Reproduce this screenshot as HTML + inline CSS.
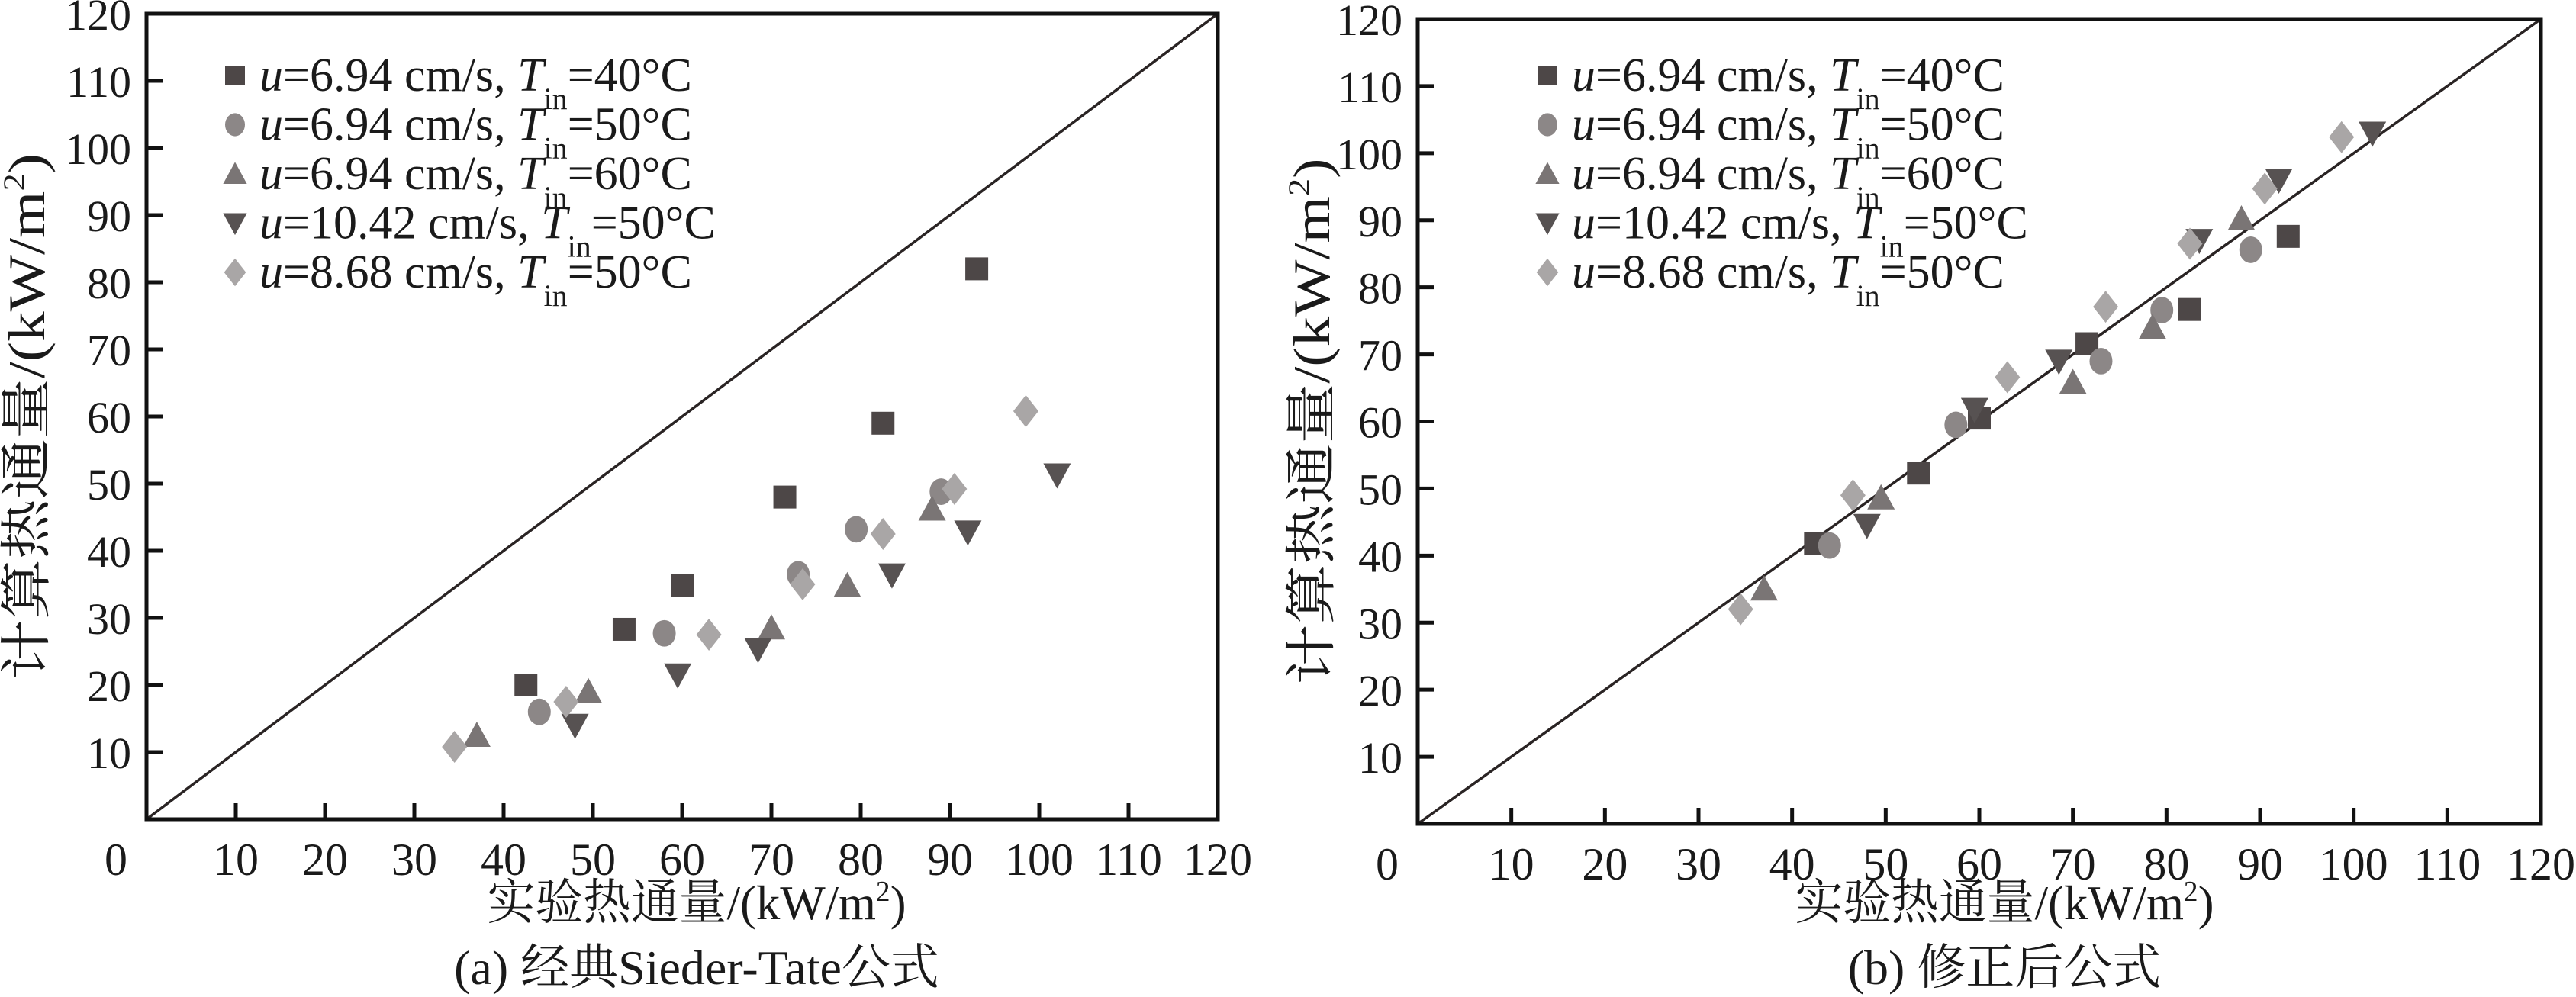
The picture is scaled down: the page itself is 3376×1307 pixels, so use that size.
<!DOCTYPE html>
<html><head><meta charset="utf-8"><style>
html,body{margin:0;padding:0;background:#fff;}
svg{display:block;}
</style></head><body>
<svg id="fig" width="3376" height="1307" viewBox="0 0 3376 1307" xmlns="http://www.w3.org/2000/svg" font-family="'Liberation Serif', 'DejaVu Serif', 'Noto Serif CJK SC', serif" fill="#1a1a1a"></svg>
<script>
const ticks=[0,10,20,30,40,50,60,70,80,90,100,110,120];
const legendSpeed=["6.94","6.94","6.94","10.42","8.68"];
const legendTemp=["40","50","60","50","50"];
const markerShapes=["square","circle","up","down","diamond"];
// Plot (a) data
const aSqX=[42.5,53.5,60,71.5,82.5,93], aSqY=[20,28.3,34.8,48,59,82];
const aCiX=[44,58,73,79.5,89], aCiY=[16,27.7,36.5,43.2,48.8];
const aUpX=[37,49.5,70,78.5,88], aUpY=[12.5,19,28.5,34.8,46.2];
const aDnX=[48,59.5,68.5,83.5,92,102], aDnY=[14,21.5,25.3,36.4,42.8,51.3];
const aDiX=[34.5,47,63,73.5,82.5,90.5,98.5], aDiY=[10.8,17.5,27.5,35,42.5,49.2,60.8];
// Plot (b) data
const bSqX=[42.5,53.5,60,71.5,82.5,93], bSqY=[41.8,52.3,60.5,71.6,76.7,87.6];
const bCiX=[44,57.5,73,79.5,89], bCiY=[41.5,59.5,69,76.6,85.6];
const bUpX=[37,49.5,70,78.5,88], bUpY=[35,48.6,65.8,74,90.2];
const bDnX=[48,59.5,68.5,83.5,92,102], bDnY=[44.5,61.8,69,87,96,103];
const bDiX=[34.5,46.5,63,73.5,82.5,90.5,98.7], bDiY=[32,49,66.6,77.1,86.5,94.7,102.4];

const NS="http://www.w3.org/2000/svg";
const svg=document.getElementById('fig');
function mk(tag,attrs,parent){const e=document.createElementNS(NS,tag);for(const k in attrs)e.setAttribute(k,attrs[k]);(parent||svg).appendChild(e);return e;}
const colors={square:"#4d4747",circle:"#8c8787",up:"#7a7575",down:"#575252",diamond:"#a9a6a6"};
function marker(g,shape,cx,cy,s){
  let e;
  if(shape==="square") e=mk('rect',{x:cx-s*0.5,y:cy-s*0.5,width:s,height:s,fill:colors.square},g);
  else if(shape==="circle") e=mk('ellipse',{cx:cx,cy:cy,rx:s*0.5,ry:s*0.58,fill:colors.circle},g);
  else if(shape==="up") e=mk('polygon',{points:`${cx},${cy-s*0.6} ${cx+s*0.6},${cy+s*0.5} ${cx-s*0.6},${cy+s*0.5}`,fill:colors.up},g);
  else if(shape==="down") e=mk('polygon',{points:`${cx-s*0.6},${cy-s*0.5} ${cx+s*0.6},${cy-s*0.5} ${cx},${cy+s*0.6}`,fill:colors.down},g);
  else e=mk('polygon',{points:`${cx},${cy-s*0.7} ${cx+s*0.55},${cy} ${cx},${cy+s*0.7} ${cx-s*0.55},${cy}`,fill:colors.diamond},g);
  return e;
}
function plot(id,L,R,T,B,data,legX,titleX,yTitleX,caption){
  const g=mk('g',{});
  
  
  const sx=v=>L+(R-L)*v/120, sy=v=>B-(B-T)*v/120;
  const d=mk('line',{x1:sx(0),y1:sy(0),x2:sx(120),y2:sy(120),stroke:"#2a2424","stroke-width":3.5},g);
  
  
  const f=mk('rect',{x:L,y:T,width:R-L,height:B-T,fill:"none",stroke:"#111","stroke-width":5},g);
  
  
  ticks.forEach(t=>{
    if(t>0&&t<120){
      mk('line',{x1:sx(t),y1:B,x2:sx(t),y2:B-21,stroke:"#111","stroke-width":5},g);
      mk('line',{x1:L,y1:sy(t),x2:L+21,y2:sy(t),stroke:"#111","stroke-width":5},g);
    }
    if(t>0){
      const xl=mk('text',{x:sx(t),y:B+73,"font-size":60,"text-anchor":"middle"},g);
      xl.textContent=t;
      
      
      const yl=mk('text',{x:L-20,y:sy(t)+21,"font-size":58,"text-anchor":"end"},g);
      yl.textContent=t;
      
      
    }
  });
  data.forEach((s,i)=>{
    const sg=mk('g',{},g);
    
    
    s[0].forEach((xv,j)=>{
      const m=marker(sg,markerShapes[i],sx(xv),sy(s[1][j]),30);
      
      
    });
  });
  const lg=mk('g',{},g);
  
  
  for(let i=0;i<5;i++){
    const y=99+i*64.5;
    const m=marker(lg,markerShapes[i],legX,y,26);
    
    
    const t=mk('text',{x:legX+32,y:y+20,"font-size":62},lg);
    
    
    t.innerHTML=`<tspan font-style="italic">u</tspan>=${legendSpeed[i]} cm/s, <tspan font-style="italic">T</tspan><tspan font-size="40" dy="24">in</tspan><tspan dy="-24">=${legendTemp[i]}°C</tspan>`;
  }
  const xt=mk('text',{x:titleX,y:1205,"font-size":64,"text-anchor":"middle",textLength:549,lengthAdjust:"spacingAndGlyphs"},g);
  
  
  xt.innerHTML='实验热通量/(kW/m<tspan font-size="38" dy="-24">2</tspan><tspan dy="24">)</tspan>';
  const yt=mk('text',{x:0,y:0,"font-size":68,"text-anchor":"middle",textLength:690,lengthAdjust:"spacingAndGlyphs",transform:`translate(${yTitleX},${(T+B)/2}) rotate(-90)`},g);
  
  
  yt.innerHTML='计算热通量/(kW/m<tspan font-size="40" dy="-26">2</tspan><tspan dy="26">)</tspan>';
  const cp=mk('text',{x:titleX,y:1290,"font-size":64,"text-anchor":"middle"},g);
  
  
  cp.textContent=caption;
  const zero=mk('text',{x:L-40,y:B+73,"font-size":60,"text-anchor":"middle"},g);
  zero.textContent="0";
  
  
}
plot('chart-a',192,1596,18,1074,[[aSqX,aSqY],[aCiX,aCiY],[aUpX,aUpY],[aDnX,aDnY],[aDiX,aDiY]],308,913,58,'(a) 经典Sieder-Tate公式');
plot('chart-b',1858,3330,25,1080,[[bSqX,bSqY],[bCiX,bCiY],[bUpX,bUpY],[bDnX,bDnY],[bDiX,bDiY]],2028,2627,1742,'(b) 修正后公式');
</script>
</body></html>
